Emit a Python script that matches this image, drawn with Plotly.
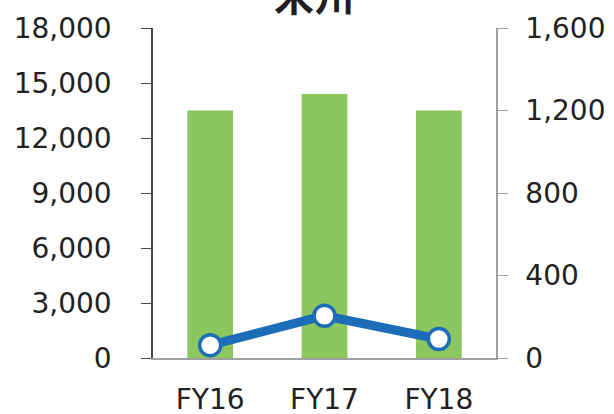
import plotly.graph_objects as go

categories = ['FY16', 'FY17', 'FY18']
bar_values = [13500, 14400, 13500]
line_values = [62, 205, 92]
left_ticks = [0, 3000, 6000, 9000, 12000, 15000, 18000]
right_ticks = [0, 400, 800, 1200, 1600]
title_text = '米州'

FONT = 'DejaVu Sans'

fig = go.Figure()

fig.add_trace(
    go.Bar(
        x=categories,
        y=bar_values,
        marker_color='#8cc65e',
        marker_line_width=0,
        yaxis='y'
    )
)

fig.add_trace(
    go.Scatter(
        x=categories,
        y=line_values,
        mode='lines+markers',
        line=dict(color='#1c6db7', width=9),
        marker=dict(size=21, color='white', line=dict(color='#1c6db7', width=3.5)),
        yaxis='y2'
    )
)

fig.update_layout(
    width=614,
    height=414,
    margin=dict(l=153, r=118, t=28, b=56),
    paper_bgcolor='white',
    plot_bgcolor='white',
    showlegend=False,
    bargap=0.6,
    font=dict(family=FONT, size=28, color='#222222'),
    xaxis=dict(
        showline=True,
        linecolor='#a0a0a0',
        linewidth=1.5,
        ticks='',
        ticklabelstandoff=16,
        showgrid=False,
        automargin=False,
    ),
    yaxis=dict(
        range=[0, 18000],
        tickvals=left_ticks,
        tickformat=',',
        showline=True,
        linecolor='#4a4a4a',
        linewidth=1.5,
        ticks='outside',
        ticklen=10,
        tickcolor='#4a4a4a',
        ticklabelstandoff=24,
        showgrid=False,
        zeroline=False,
        automargin=False,
    ),
    yaxis2=dict(
        range=[0, 1600],
        tickvals=right_ticks,
        tickformat=',',
        overlaying='y',
        side='right',
        showline=True,
        linecolor='#a0a0a0',
        linewidth=1.5,
        ticks='outside',
        ticklen=10,
        tickcolor='#a0a0a0',
        ticklabelstandoff=12,
        showgrid=False,
        zeroline=False,
        automargin=False,
    ),
    annotations=[
        dict(
            text='<b>' + title_text + '</b>',
            x=0.47, xref='paper',
            y=1.0, yref='paper', yanchor='bottom',
            yshift=3,
            showarrow=False,
            font=dict(family='Noto Sans CJK JP', size=40, color='#231f20'),
        )
    ],
)

# drop the browser's default body margin so the figure sits at the page corner
fig.write_html('out.html', config={'displayModeBar': False},
               post_script="document.body.style.margin='0';")
